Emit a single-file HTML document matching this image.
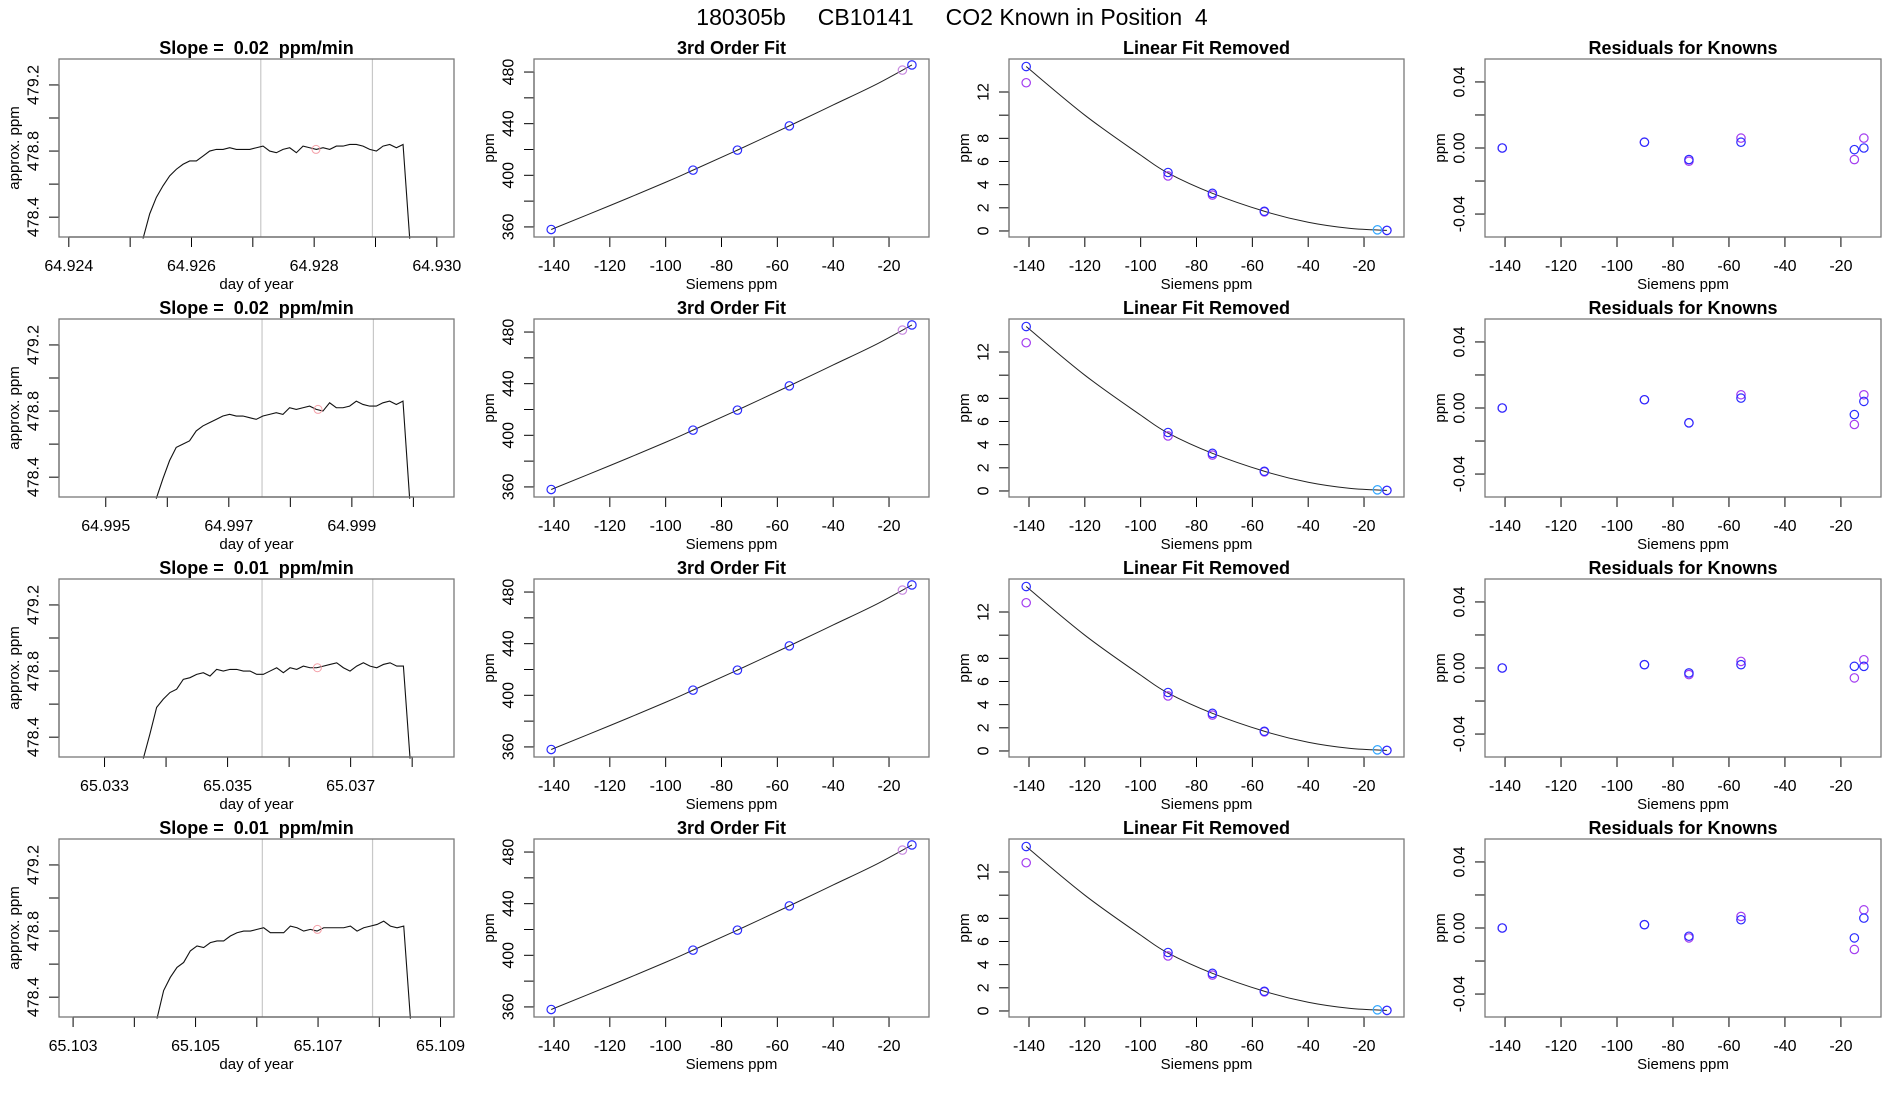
<!DOCTYPE html>
<html><head><meta charset="utf-8">
<style>
html,body{margin:0;padding:0;background:#fff;}
svg{display:block;font-family:"Liberation Sans",Arial,sans-serif;}
svg text{white-space:pre;}
</style></head>
<body>
<svg id="fig" width="1900" height="1100" viewBox="0 0 1900 1100">
<rect width="1900" height="1100" fill="#fff"/>
<text x="952" y="25" font-size="23" text-anchor="middle" xml:space="preserve">180305b     CB10141     CO2 Known in Position  4</text>
</svg>
<script>
// ---------- data ----------
const slopeTitles = ["Slope =  0.02  ppm/min","Slope =  0.02  ppm/min","Slope =  0.01  ppm/min","Slope =  0.01  ppm/min"];
const tsStart = [64.92521, 64.99582, 65.03363, 65.10437];
const tsStep = [0.0001087, 0.0001084, 0.0001084, 0.0001089];
const tsRow1 = [478.27,478.42,478.52,478.59,478.65,478.69,478.72,478.74,478.74,478.77,478.80,478.81,478.81,478.82,478.81,478.81,478.81,478.82,478.83,478.80,478.79,478.81,478.82,478.79,478.83,478.82,478.81,478.82,478.81,478.83,478.83,478.84,478.84,478.83,478.81,478.80,478.83,478.84,478.82,478.84,478.27];
const tsRow2 = [478.27,478.39,478.50,478.58,478.60,478.62,478.68,478.71,478.73,478.75,478.77,478.78,478.77,478.77,478.76,478.75,478.77,478.78,478.79,478.78,478.82,478.81,478.82,478.83,478.81,478.80,478.85,478.82,478.82,478.83,478.86,478.84,478.83,478.83,478.85,478.86,478.84,478.86,478.27];
const tsRow3 = [478.27,478.42,478.58,478.63,478.67,478.69,478.75,478.76,478.78,478.79,478.77,478.81,478.80,478.81,478.81,478.80,478.80,478.78,478.78,478.80,478.82,478.79,478.82,478.81,478.83,478.82,478.82,478.83,478.84,478.85,478.82,478.80,478.83,478.85,478.83,478.82,478.84,478.85,478.83,478.83,478.27];
const tsRow4 = [478.27,478.44,478.52,478.58,478.61,478.68,478.71,478.70,478.73,478.74,478.74,478.77,478.79,478.80,478.80,478.81,478.82,478.79,478.79,478.79,478.83,478.82,478.80,478.81,478.80,478.82,478.82,478.82,478.82,478.83,478.80,478.82,478.83,478.84,478.86,478.83,478.82,478.83,478.27];
const tsSeries = [tsRow1, tsRow2, tsRow3, tsRow4];
const tsXmin = [64.92384, 64.99424, 65.03226, 65.10277];
const tsXmax = [64.93028, 65.00066, 65.03868, 65.10922];
const tsTicksFirst = [64.924, 64.995, 65.033, 65.103];
const tsTickCount = [7, 6, 6, 7];
const tsTickLabelEvery = [2, 2, 2, 2];
const tsWindowA = [64.92713, 64.99754, 65.03556, 65.10609];
const tsWindowB = [64.92895, 64.99935, 65.03736, 65.10789];
const tsMarkT = [64.92803, 64.99845, 65.03646, 65.10699];
const tsMarkV = [478.81, 478.81, 478.82, 478.81];
const tsYTicks = [478.4, 478.6, 478.8, 479.0, 479.2];
const tsYLabels = ["478.4", "", "478.8", "", "479.2"];

const sieX = [-141, -90.2, -74.3, -55.7, -15.2, -11.8];
const fitPts = [358, 404, 419.5, 438.3, 481.5, 485.5];
const fitColors = ["blue","blue","blue","blue","lightpurple","blue"];
const fitLineX = [-141, -120, -100, -90.2, -74.3, -55.7, -40, -25, -11.8];
const fitLineY = [358, 376.5, 394.6, 404, 419.5, 438.3, 454.5, 470.0, 485.5];
const fitYTicks = [360, 380, 400, 420, 440, 460, 480];
const fitYLabels = ["360", "", "400", "", "440", "", "480"];

const linBlueX = [-141, -90.2, -74.3, -55.7, -11.8];
const linBlueY = [14.2, 5.05, 3.25, 1.7, 0.05];
const linPurpX = [-141, -90.2, -74.3, -55.7, -11.8];
const linPurpY = [12.8, 4.75, 3.1, 1.65, 0.05];
const linCyanX = [-15.2];
const linCyanY = [0.1];
const linCurveX = [-141, -120, -100, -90.2, -74.3, -55.7, -40, -25, -11.8];
const linCurveY = [14.2, 10.0, 6.55, 5.0, 3.25, 1.7, 0.75, 0.22, 0.05];
const linYTicks = [0, 2, 4, 6, 8, 10, 12];
const linYLabels = ["0", "2", "4", "6", "8", "", "12"];

const sieXTicks = [-140, -120, -100, -80, -60, -40, -20];
const resBlue = [[0, 0.0035, -0.007, 0.0035, -0.001, 0.000],
                 [0, 0.005, -0.009, 0.006, -0.004, 0.004],
                 [0, 0.002, -0.003, 0.002, 0.001, 0.001],
                 [0, 0.002, -0.005, 0.005, -0.006, 0.006]];
const resPurple = [[0, 0.0035, -0.008, 0.006, -0.007, 0.006],
                   [0, 0.005, -0.009, 0.008, -0.010, 0.008],
                   [0, 0.002, -0.004, 0.004, -0.006, 0.005],
                   [0, 0.002, -0.006, 0.007, -0.013, 0.011]];
const resYTicks = [-0.04, -0.02, 0, 0.02, 0.04];
const resYLabels = ["-0.04", "", "0.00", "", "0.04"];

// ---------- drawing ----------
const NS = "http://www.w3.org/2000/svg";
const svg = document.getElementById("fig");
const COL = {blue:"#2b2bff", purple:"#a33cf0", lightpurple:"#c98be0", cyan:"#33a8ff"};
function mk(tag, attrs, parent){
  const e = document.createElementNS(NS, tag);
  for (const k in attrs) e.setAttribute(k, attrs[k]);
  (parent || svg).appendChild(e);
  return e;
}
function scale(d0, d1, r0, r1){ return v => r0 + (v - d0) / (d1 - d0) * (r1 - r0); }
function smoothPath(xs, ys, sx, sy){
  const P = xs.map((x,i)=>[sx(x), sy(ys[i])]);
  let d = "M" + P[0][0] + "," + P[0][1];
  for (let i=0;i<P.length-1;i++){
    const p0=P[Math.max(i-1,0)], p1=P[i], p2=P[i+1], p3=P[Math.min(i+2,P.length-1)];
    const c1=[p1[0]+(p2[0]-p0[0])/6, p1[1]+(p2[1]-p0[1])/6];
    const c2=[p2[0]-(p3[0]-p1[0])/6, p2[1]-(p3[1]-p1[1])/6];
    d += " C"+c1[0]+","+c1[1]+" "+c2[0]+","+c2[1]+" "+p2[0]+","+p2[1];
  }
  return d;
}

function frame(g, L, T, R, B, title, xlab, ylab){
  const box = mk("rect", {x:L, y:T, width:R-L, height:B-T, fill:"none", stroke:"#7a7a7a", "stroke-width":1.3}, g);
  
  
  const t = mk("text", {x:(L+R)/2, y:T-5, "font-size":18, "font-weight":"bold", "text-anchor":"middle", "xml:space":"preserve"}, g);
  t.textContent = title;
  
  
  const xl = mk("text", {x:(L+R)/2, y:B+52, "font-size":15, "text-anchor":"middle"}, g);
  xl.textContent = xlab;
  
  
  const yl = mk("text", {x:0, y:0, "font-size":15, "text-anchor":"middle", transform:"translate("+(L-40)+","+((T+B)/2)+") rotate(-90)"}, g);
  yl.textContent = ylab;
  
  
}
function xAxis(g, B, ticks, labels, sx){
  const xa = mk("line", {x1:sx(ticks[0]), x2:sx(ticks[ticks.length-1]), y1:B, y2:B, stroke:"#000", "stroke-width":1.2}, g);
  
  
  ticks.forEach((v,i)=>{
    const tk = mk("line", {x1:sx(v), x2:sx(v), y1:B, y2:B+10, stroke:"#000", "stroke-width":1}, g);
    
    
    if (labels[i]) {
      const tl = mk("text", {x:sx(v), y:B+34, "font-size":16, "text-anchor":"middle"}, g);
      tl.textContent = labels[i];
      
      
    }
  });
}
function yAxis(g, L, ticks, labels, sy){
  const ya = mk("line", {x1:L, x2:L, y1:sy(ticks[0]), y2:sy(ticks[ticks.length-1]), stroke:"#000", "stroke-width":1.2}, g);
  
  
  ticks.forEach((v,i)=>{
    const tk = mk("line", {x1:L-10, x2:L, y1:sy(v), y2:sy(v), stroke:"#000", "stroke-width":1}, g);
    
    
    if (labels[i]) {
      const tl = mk("text", {x:0, y:0, "font-size":16, "text-anchor":"middle", "dominant-baseline":"central", transform:"translate("+(L-25)+","+sy(v)+") rotate(-90)"}, g);
      tl.textContent = labels[i];
      
      
    }
  });
}
function pt(g, x, y, color){
  const c = mk("circle", {cx:x, cy:y, r:4.2, fill:"none", stroke:color, "stroke-width":1.2}, g);
  
  
}

for (let r=0; r<4; r++){
  const T = 59 + 260*r, B = T + 178;
  // ---- column 1 : time series ----
  {
    const L = 59, R = 454;
    const g = mk("g", {});
    
    
    const sx = scale(tsXmin[r], tsXmax[r], L, R);
    const sy = scale(478.28, 479.357, B, T);
    [tsWindowA[r], tsWindowB[r]].forEach(v=>{
      const vl = mk("line", {x1:sx(v), x2:sx(v), y1:T, y2:B, stroke:"#c8c8c8", "stroke-width":1.2}, g);
      
      
    });
    const vals = tsSeries[r];
    const d = vals.map((v,i)=>(i?"L":"M")+sx(tsStart[r]+i*tsStep[r]).toFixed(2)+","+sy(v).toFixed(2)).join(" ");
    const p = mk("path", {d:d, fill:"none", stroke:"#111", "stroke-width":1.1}, g);
    
    
    const m = mk("circle", {cx:sx(tsMarkT[r]), cy:sy(tsMarkV[r]), r:4, fill:"none", stroke:"#f4a0a8", "stroke-width":1}, g);
    
    
    const ticks = [], labels = [];
    for (let i=0;i<tsTickCount[r];i++){ const v = tsTicksFirst[r] + i*0.001; ticks.push(v); labels.push(i % tsTickLabelEvery[r] === 0 ? v.toFixed(3) : ""); }
    xAxis(g, B, ticks, labels, sx);
    yAxis(g, L, tsYTicks, tsYLabels, sy);
    frame(g, L, T, R, B, slopeTitles[r], "day of year", "approx. ppm");
  }
  // ---- column 2 : 3rd order fit ----
  {
    const L = 534, R = 929;
    const g = mk("g", {});
    
    
    const sx = scale(-147.16, -5.68, L, R);
    const sy = scale(352.2, 490.1, B, T);
    const p = mk("path", {d:smoothPath(fitLineX, fitLineY, sx, sy), fill:"none", stroke:"#222", "stroke-width":1}, g);
    
    
    sieX.forEach((x,i)=>pt(g, sx(x), sy(fitPts[i]), COL[fitColors[i]]));
    xAxis(g, B, sieXTicks, sieXTicks.map(String), sx);
    yAxis(g, L, fitYTicks, fitYLabels, sy);
    frame(g, L, T, R, B, "3rd Order Fit", "Siemens ppm", "ppm");
  }
  // ---- column 3 : linear fit removed ----
  {
    const L = 1009, R = 1404;
    const g = mk("g", {});
    
    
    const sx = scale(-147.16, -5.68, L, R);
    const sy = scale(-0.52, 14.85, B, T);
    const p = mk("path", {d:smoothPath(linCurveX, linCurveY, sx, sy), fill:"none", stroke:"#222", "stroke-width":1}, g);
    
    
    linPurpX.forEach((x,i)=>pt(g, sx(x), sy(linPurpY[i]), COL.purple));
    linBlueX.forEach((x,i)=>pt(g, sx(x), sy(linBlueY[i]), COL.blue));
    linCyanX.forEach((x,i)=>pt(g, sx(x), sy(linCyanY[i]), COL.cyan));
    xAxis(g, B, sieXTicks, sieXTicks.map(String), sx);
    yAxis(g, L, linYTicks, linYLabels, sy);
    frame(g, L, T, R, B, "Linear Fit Removed", "Siemens ppm", "ppm");
  }
  // ---- column 4 : residuals ----
  {
    const L = 1485, R = 1881;
    const g = mk("g", {});
    
    
    const sx = scale(-147.16, -5.68, L, R);
    const sy = scale(-0.0539, 0.0539, B, T);
    sieX.forEach((x,i)=>pt(g, sx(x), sy(resPurple[r][i]), COL.purple));
    sieX.forEach((x,i)=>pt(g, sx(x), sy(resBlue[r][i]), COL.blue));
    xAxis(g, B, sieXTicks, sieXTicks.map(String), sx);
    yAxis(g, L, resYTicks, resYLabels, sy);
    frame(g, L, T, R, B, "Residuals for Knowns", "Siemens ppm", "ppm");
  }
}
</script>
</body></html>
